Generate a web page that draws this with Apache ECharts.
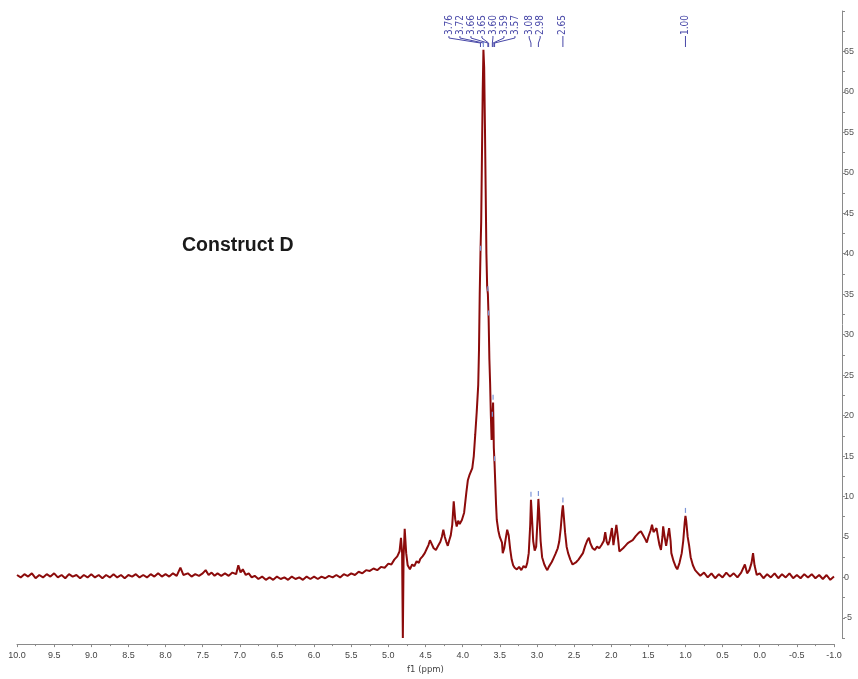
<!DOCTYPE html>
<html>
<head>
<meta charset="utf-8">
<script src="https://cdn.jsdelivr.net/npm/echarts@6/dist/echarts.min.js"></script>
<style>
html,body{margin:0;padding:0;background:#fff;}
#chart{width:858px;height:679px;}
</style>
</head>
<body>
<div id="chart"></div>
<script>
// ---- data ----
const titleText = 'Construct D';
const xAxisName = 'f1 (ppm)';

// baseline, 10 -> 5 ppm
const baselineLeft = [
[10.00,0.3],[9.95,0.0],[9.90,0.4],[9.85,0.1],[9.80,0.5],[9.75,-0.1],[9.70,0.3],[9.65,0.0],[9.60,0.4],[9.55,0.1],
[9.50,0.5],[9.45,0.0],[9.40,0.3],[9.35,-0.1],[9.30,0.4],[9.25,0.1],[9.20,0.3],[9.15,-0.1],[9.10,0.3],[9.05,0.0],
[9.00,0.4],[8.95,0.0],[8.90,0.3],[8.85,-0.1],[8.80,0.3],[8.75,0.0],[8.70,0.4],[8.65,0.0],[8.60,0.3],[8.55,-0.1],
[8.50,0.3],[8.45,0.1],[8.40,0.4],[8.35,0.0],[8.30,0.3],[8.25,0.0],[8.20,0.4],[8.15,0.1],[8.10,0.5],[8.05,0.1],
[8.00,0.4],[7.95,0.1],[7.90,0.5],[7.85,0.2],[7.80,1.2],[7.76,0.3],[7.70,0.5],[7.65,0.1],[7.60,0.4],[7.55,0.2],
[7.50,0.5],[7.46,0.9],[7.42,0.3],[7.38,0.6],[7.34,0.2],[7.30,0.5],[7.25,0.2],[7.20,0.5],[7.15,0.2],[7.10,0.6],
[7.05,0.4],[7.02,1.5],[6.99,0.6],[6.96,1.0],[6.92,0.3],[6.88,0.5],[6.84,0.0],[6.80,0.2],[6.75,-0.2],[6.70,0.1],
[6.65,-0.3],[6.60,0.0],[6.55,-0.3],[6.50,0.1],[6.45,-0.2],[6.40,0.0],[6.35,-0.3],[6.30,0.1],[6.25,-0.2],[6.20,0.0],
[6.15,-0.3],[6.10,0.1],[6.05,-0.2],[6.00,0.1],[5.95,-0.2],[5.90,0.1],[5.85,-0.1],[5.80,0.2],[5.75,0.0],[5.70,0.3],
[5.65,0.0],[5.60,0.4],[5.55,0.2],[5.50,0.5],[5.45,0.3],[5.40,0.7],[5.35,0.5],[5.30,0.9],[5.25,0.8],[5.20,1.1],
[5.15,0.9],[5.10,1.3],[5.05,1.2]
];

// 5 -> 3.8 ppm (water region, sugar shoulders)
const regionWater = [
[5.00,1.7],[4.96,1.6],[4.92,2.2],[4.88,2.6],[4.85,3.2],[4.83,4.9],[4.815,3.0],[4.805,-7.5],[4.795,2.5],[4.78,6.0],
[4.76,3.0],[4.74,1.5],[4.71,1.0],[4.68,1.6],[4.65,1.4],[4.62,2.0],[4.59,1.8],[4.57,2.3],[4.54,2.6],[4.51,3.0],
[4.48,3.6],[4.46,4.0],[4.44,4.6],[4.42,4.2],[4.39,3.6],[4.36,3.4],[4.33,3.9],[4.30,4.4],[4.28,5.0],[4.26,5.9],
[4.24,5.0],[4.22,4.4],[4.20,3.9],[4.18,4.6],[4.16,5.2],[4.14,6.5],[4.12,9.4],[4.10,7.2],[4.08,6.3],[4.06,7.0],
[4.04,6.6],[4.01,7.1],[3.98,8.0],[3.95,10.5],[3.93,12.0],[3.91,12.6],[3.89,12.8],[3.87,13.5],[3.85,15.0],[3.83,17.7],
[3.81,20.5]
];

// main multiplet 3.8 -> 3.3 ppm
const regionMain = [
[3.79,23.8],[3.78,28],[3.77,35],[3.76,40],[3.75,44],[3.74,52],[3.73,60],[3.72,65.2],[3.71,63],[3.70,56],
[3.69,48],[3.68,40],[3.67,36],[3.66,35],[3.65,32],[3.64,27],[3.63,24],[3.62,20],[3.61,17],[3.60,19.5],
[3.59,21.6],[3.585,19],[3.58,16],[3.57,14],[3.56,11.5],[3.55,9],[3.54,7.1],[3.52,5.8],[3.50,5.0],[3.47,4.3],
[3.46,3.0],[3.44,3.6],[3.42,4.8],[3.40,5.9],[3.38,5.2],[3.36,3.5],[3.34,2.2],[3.32,1.5]
];

// 3.3 -> 0.8 ppm
const regionAliphatic = [
[3.30,1.2],[3.27,1.0],[3.24,1.3],[3.21,0.9],[3.18,1.4],[3.15,1.2],[3.13,1.8],[3.11,3.0],[3.09,6.5],[3.08,9.6],
[3.07,8.0],[3.05,4.5],[3.03,3.3],[3.01,3.8],[2.99,7.5],[2.98,9.7],[2.97,8.2],[2.95,4.5],[2.93,2.5],[2.90,1.6],
[2.88,1.2],[2.86,0.9],[2.84,1.3],[2.82,1.5],[2.80,1.9],[2.78,2.3],[2.75,2.9],[2.72,3.6],[2.70,4.4],[2.68,6.0],
[2.66,8.2],[2.65,8.9],[2.64,7.8],[2.62,5.5],[2.60,3.8],[2.58,3.0],[2.55,2.2],[2.52,1.6],[2.50,1.8],[2.47,1.9],
[2.44,2.2],[2.41,2.6],[2.38,3.0],[2.35,3.9],[2.32,4.6],[2.30,4.9],[2.28,4.2],[2.25,3.6],[2.22,3.4],[2.19,3.8],
[2.16,3.6],[2.13,4.0],[2.10,4.5],[2.08,5.6],[2.06,4.4],[2.04,4.0],[2.02,4.6],[1.99,6.1],[1.97,4.0],[1.95,3.8],
[1.93,6.5],[1.91,5.0],[1.89,3.2],[1.87,3.0],[1.84,3.6],[1.81,3.9],[1.78,4.2],[1.75,4.4],[1.71,4.6],[1.67,5.1],
[1.63,5.5],[1.60,5.7],[1.57,5.2],[1.54,4.7],[1.52,4.3],[1.50,5.0],[1.47,5.8],[1.45,6.5],[1.43,5.6],[1.41,5.5],
[1.39,6.1],[1.37,5.0],[1.35,4.0],[1.33,3.4],[1.31,5.0],[1.30,6.3],[1.28,5.0],[1.26,3.9],[1.24,5.0],[1.22,6.1],
[1.20,4.5],[1.19,3.0],[1.16,2.0],[1.13,1.3],[1.11,1.0],[1.08,1.8],[1.05,3.0],[1.03,4.5],[1.01,6.8],[1.00,7.6],
[0.99,7.0],[0.97,5.0],[0.95,3.9],[0.93,2.5],[0.90,1.5],[0.87,0.9],[0.84,0.6],[0.80,0.2]
];

// baseline 0.8 -> -1.0 ppm
const baselineRight = [
[0.75,0.6],[0.70,0.0],[0.65,0.5],[0.60,-0.1],[0.55,0.4],[0.50,0.0],[0.45,0.6],[0.40,0.1],[0.35,0.5],[0.30,0.0],
[0.25,0.6],[0.20,1.6],[0.17,0.5],[0.14,0.9],[0.11,1.8],[0.09,3.0],[0.07,1.5],[0.04,0.3],[0.00,0.5],[-0.05,-0.1],
[-0.10,0.4],[-0.15,0.0],[-0.20,0.5],[-0.25,-0.1],[-0.30,0.4],[-0.35,0.0],[-0.40,0.5],[-0.45,-0.1],[-0.50,0.3],[-0.55,-0.1],
[-0.60,0.4],[-0.65,0.0],[-0.70,0.4],[-0.75,-0.1],[-0.80,0.3],[-0.85,-0.2],[-0.90,0.3],[-0.95,-0.3],[-1.00,0.1]
];

// peak picking annotations
const peakPpm     = [3.76, 3.72, 3.66, 3.65, 3.60, 3.59, 3.57, 3.08, 2.98, 2.65, 1.00];
const peakHeights = [40,   65.2, 35,   32,   19.5, 21.6, 14,   9.6,  9.7,  8.9,  7.6];

// axis
const xMin = -1, xMax = 10, xStep = 0.5;
const yMin = -7.5, yMax = 70, yStep = 2.5;

// ---- chart ----
const spectrum = [].concat(baselineLeft, regionWater, regionMain, regionAliphatic, baselineRight);
const peakData = peakPpm.map((p, i) => [p, peakHeights[i]]);

const LABEL_SPACING = 11;
const LABEL_BOTTOM = 35;
const BLUE = '#4848a8';

function layoutLabels(api) {
  const px = peakPpm.map(p => api.coord([p, 0])[0]);
  const pos = new Array(px.length);
  let cluster = [0];
  const flush = (c) => {
    let tall = c[0];
    c.forEach(k => { if (peakHeights[k] > peakHeights[tall]) tall = k; });
    const center = (px[c[0]] + px[tall]) / 2;
    c.forEach((k, j) => { pos[k] = center + (j - (c.length - 1) / 2) * LABEL_SPACING; });
  };
  for (let i = 1; i < px.length; i++) {
    if (px[i] - px[i - 1] < LABEL_SPACING) cluster.push(i);
    else { flush(cluster); cluster = [i]; }
  }
  flush(cluster);
  return pos;
}

const chart = echarts.init(document.getElementById('chart'), null, {renderer: 'canvas'});
chart.setOption({
  animation: false,
  backgroundColor: '#ffffff',
  title: {
    text: titleText,
    left: 177,
    top: 231,
    textStyle: {fontFamily: '"Liberation Sans", Arial, sans-serif', fontWeight: 'bold', fontSize: 19.5, color: '#1a1a1a'}
  },
  grid: {left: 17, right: 24, top: 11, bottom: 33, containLabel: false},
  xAxis: {
    type: 'value',
    inverse: true,
    min: xMin, max: xMax, interval: xStep,
    offset: 6,
    name: xAxisName,
    nameLocation: 'middle',
    nameGap: 18,
    nameTextStyle: {fontFamily: '"DejaVu Sans", sans-serif', fontSize: 8.5, color: '#444'},
    axisLine: {show: true, onZero: false, lineStyle: {color: '#8a8a8a', width: 1}},
    axisTick: {show: true, length: 3, lineStyle: {color: '#8a8a8a'}},
    minorTick: {show: true, splitNumber: 2, length: 2, lineStyle: {color: '#8a8a8a'}},
    splitLine: {show: false},
    axisLabel: {
      fontFamily: '"Liberation Sans", Arial, sans-serif', fontSize: 9, color: '#444', margin: 7,
      formatter: v => Number(v).toFixed(1)
    }
  },
  yAxis: {
    type: 'value',
    position: 'right',
    offset: 8,
    min: yMin, max: yMax, interval: yStep,
    axisLine: {show: true, onZero: false, lineStyle: {color: '#8a8a8a', width: 1}},
    axisTick: {show: true, length: 3, lineStyle: {color: '#8a8a8a'}},
    splitLine: {show: false},
    axisLabel: {
      fontFamily: '"Liberation Sans", Arial, sans-serif', fontSize: 9, color: '#555', margin: 2,
      formatter: v => (Math.abs(v % 5) < 1e-9 && v < yMax) ? String(v) : ''
    }
  },
  series: [
    {
      type: 'line',
      data: spectrum,
      showSymbol: false,
      symbol: 'none',
      sampling: null,
      lineStyle: {color: '#8c0b0b', width: 2},
      z: 2
    },
    {
      type: 'custom',
      data: peakData,
      clip: false,
      z: 3,
      encode: {x: 0, y: 1},
      renderItem: function (params, api) {
        const i = params.dataIndex;
        const pos = layoutLabels(api);
        const lx = pos[i];
        const pt = api.coord([api.value(0), api.value(1)]);
        const px = pt[0], py = pt[1];
        return {
          type: 'group',
          children: [
            {
              type: 'text',
              x: lx, y: LABEL_BOTTOM,
              rotation: Math.PI / 2,
              style: {
                text: peakPpm[i].toFixed(2),
                x: 0, y: 0,
                align: 'left', verticalAlign: 'middle',
                font: '10px "DejaVu Sans Condensed", "DejaVu Sans", sans-serif',
                fill: BLUE
              }
            },
            {
              type: 'polyline',
              shape: {points: [[lx, LABEL_BOTTOM + 1], [lx, LABEL_BOTTOM + 3], [px, LABEL_BOTTOM + 8], [px, LABEL_BOTTOM + 12]]},
              style: {stroke: BLUE, lineWidth: 1, fill: null}
            },
            {
              type: 'line',
              shape: {x1: px, y1: py - 3, x2: px, y2: py - 8},
              style: {stroke: '#7d96d8', lineWidth: 1.2}
            }
          ]
        };
      }
    }
  ]
});
</script>
</body>
</html>
